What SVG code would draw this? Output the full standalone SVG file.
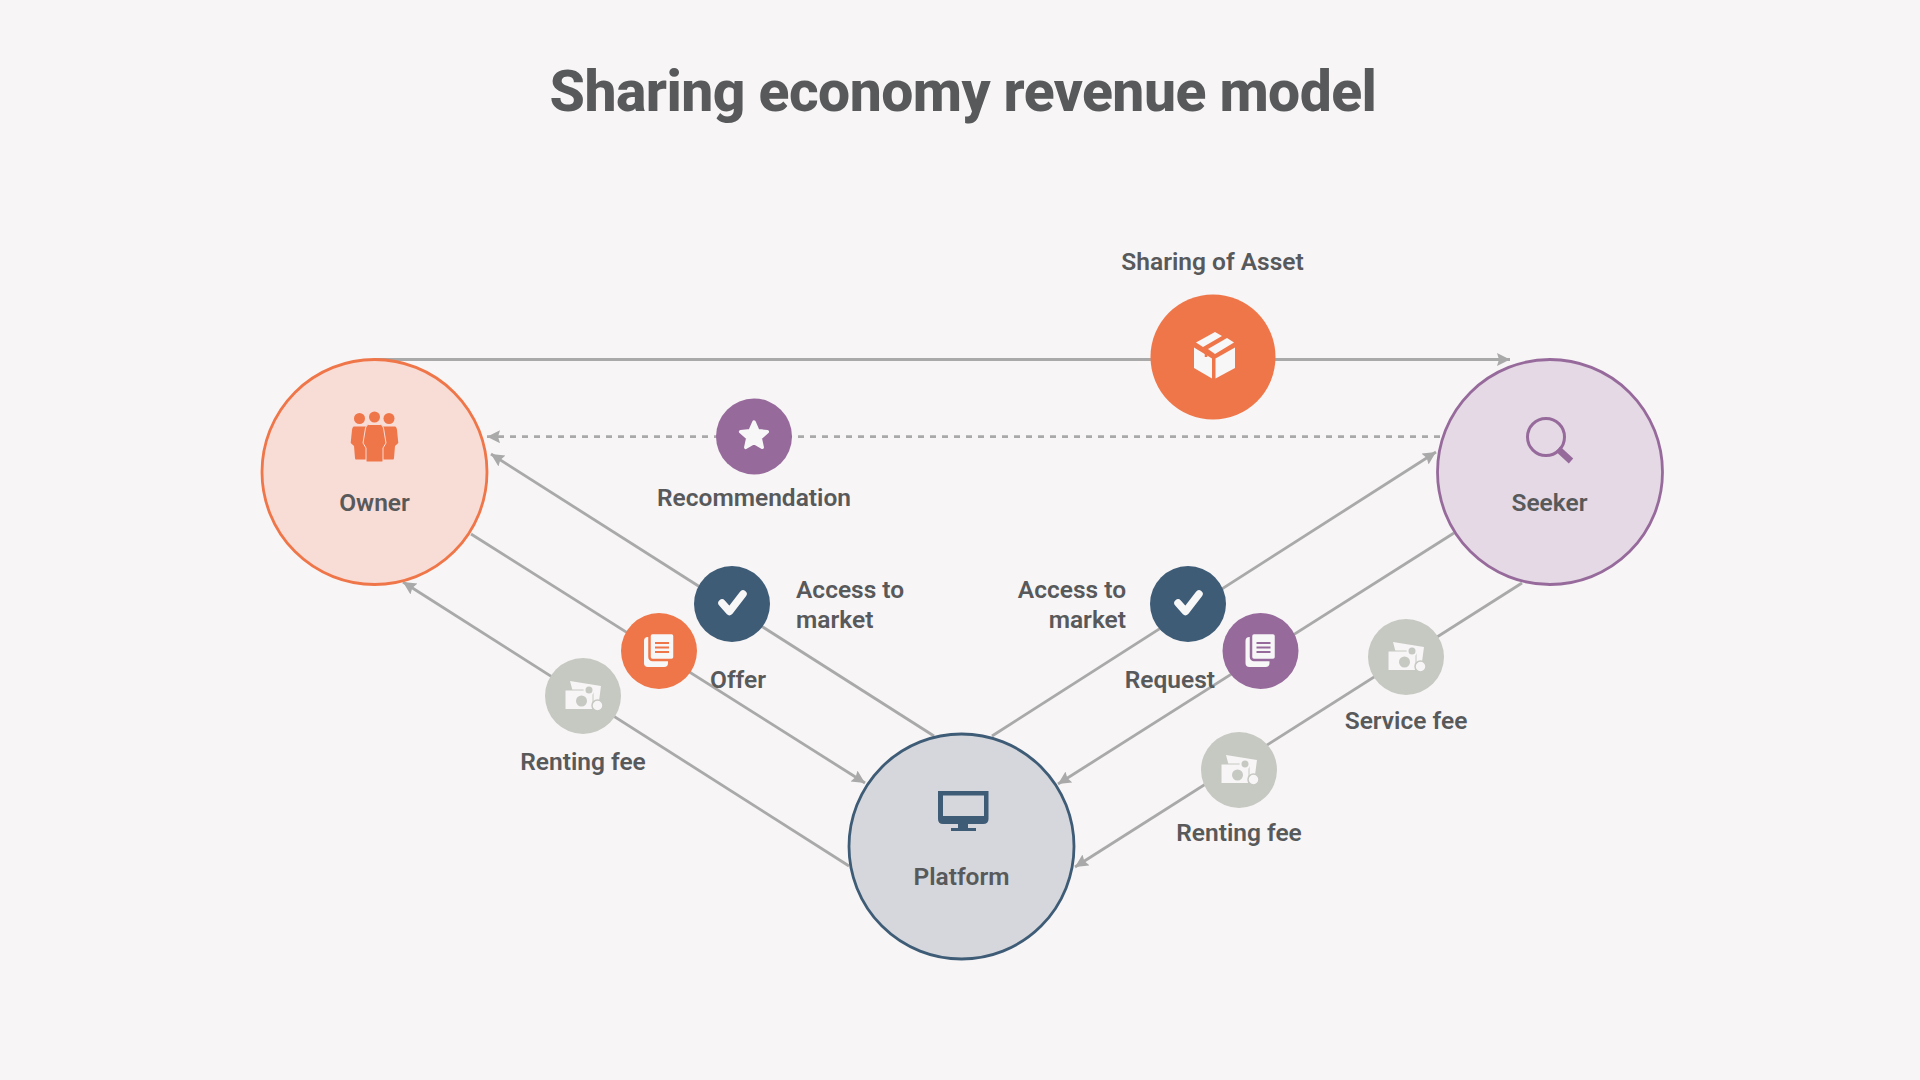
<svg xmlns="http://www.w3.org/2000/svg" width="1920" height="1080" viewBox="0 0 1920 1080">
<style>
text{font-family:"Roboto","Liberation Sans",sans-serif;font-weight:600;font-size:24.5px;fill:#58595b}
.m{text-anchor:middle}.e{text-anchor:end}
.title{font-size:57px;font-weight:800;letter-spacing:-.55px}
.c{fill:none;stroke:#a9a9a9;stroke-width:2.800}
.a{marker-end:url(#arrow)}
.d{stroke-dasharray:6 6}
.big{stroke-width:2.800}
.w{fill:#f8f7f8}
</style>
<defs>
<marker id="arrow" markerUnits="userSpaceOnUse" markerWidth="14" markerHeight="14" refX="13" refY="6.500" orient="auto"><path d="M0 0L13 6.500L0 13L2 6.500Z" fill="#a9a9a9"/></marker>
<symbol id="money" viewBox="-20 -20 40 40" width="40" height="40" overflow="visible">
<path d="M-13-15L18-10L16 5H10V-5.500H-10.500Z" fill="#f7f5f6"/>
<path d="M-18-6H10V13.500H-18Z" fill="#f7f5f6" stroke="#c6c8c2" stroke-width="1"/>
<circle cx="-1.500" cy="5" r="5.500" fill="#c6c8c2"/>
<circle cx="6" cy="-6" r="4.500" fill="#c6c8c2" stroke="#f7f5f6" stroke-width="2"/>
<circle cx="14.500" cy="9.500" r="5.500" fill="#f7f5f6" stroke="#c6c8c2" stroke-width="1.500"/>
</symbol>
<symbol id="docs" viewBox="-20 -20 40 40" width="40" height="40" overflow="visible">
<rect x="-15" y="-14" width="24" height="30" rx="4" class="w"/>
<rect x="-9.500" y="-18" width="25" height="27" rx="3" class="w" stroke="currentColor" stroke-width="2.500"/>
<path d="M-4-8H10M-4-3.500H10M-4 1H10" stroke="currentColor" stroke-width="2" fill="none"/>
</symbol>
<symbol id="check" viewBox="-20 -20 40 40" width="40" height="40" overflow="visible">
<path d="M-10-1L-2.500 7.500L11-10" fill="none" stroke="#f8f7f8" stroke-width="7.500" stroke-linecap="round" stroke-linejoin="round"/>
</symbol>
</defs>
<rect width="1920" height="1080" fill="#f7f5f6"/>
<text id="title" class="title m" x="963" y="111">Sharing economy revenue model</text>
<g id="connectors">
<path class="c a" d="M374 359.500H1510"/>
<path class="c a d" d="M1440 436.700H487"/>
<path class="c a" d="M934 736L491 454"/>
<path class="c a" d="M471 534L865 783"/>
<path class="c a" d="M849 866L403 582"/>
<path class="c a" d="M992 736L1436 452"/>
<path class="c a" d="M1454 533L1058 784"/>
<path class="c a" d="M1522 583L1075 867"/>
</g>
<g id="owner">
<circle class="big" cx="374.500" cy="472" r="112.500" fill="#f8dcd6" stroke="#ef7649"/>
<g fill="#ef7649">
<circle cx="374.500" cy="417" r="5.500"/><circle cx="359.500" cy="418.500" r="5.500"/><circle cx="389" cy="418.500" r="5.500"/>
<path d="M354 426.500H366V459.500H356Q355 459.500 355 458L354 446L350.700 443L352 430Q352.500 426.500 354 426.500Z"/>
<path d="M383 426.500H395Q396.500 426.500 397 430L398.300 443L395 446L394 458Q394 459.500 393 459.500H383Z"/>
<path d="M368.500 424.500H380.500Q382.500 424.500 383.500 428L386 443L383 448V461Q383 462 382 462H367Q366 462 366 461V448L363 443L365.500 428Q366.500 424.500 368.500 424.500Z" stroke="#f8dcd6" stroke-width="1"/>
</g>
<text class="m" x="374.500" y="511">Owner</text>
</g>
<g id="seeker">
<circle class="big" cx="1550" cy="472" r="112.500" fill="#e4d9e4" stroke="#976a9c"/>
<circle cx="1546" cy="437" r="18.500" fill="none" stroke="#976a9c" stroke-width="3"/>
<path d="M1558 449L1571 461" stroke="#976a9c" stroke-width="6.500"/>
<text class="m" x="1549.500" y="511">Seeker</text>
</g>
<g id="platform">
<circle class="big" cx="961.500" cy="846.500" r="112.500" fill="#d5d7dc" stroke="#3f5c77"/>
<path fill-rule="evenodd" fill="#3f5c77" d="M938 791H988.500V819Q988.500 824 983 824H968V828H976V831H951V828H958V824H943Q938 824 938 819ZM943 795.500V816H984V795.500Z"/>
<text class="m" x="961.500" y="885">Platform</text>
</g>
<g id="sharing-of-asset">
<circle cx="1213" cy="357" r="62.500" fill="#ef7649"/>
<g class="w">
<path d="M1194 347.500L1212 358.500V378.500L1194 368Z"/>
<path d="M1215.500 358.500L1235 347.500V368L1215.500 378.500Z"/>
<path d="M1196 342.500L1215 332L1222 336L1203 347Z"/>
<path d="M1208 349L1227 338L1234 342.500L1215 354Z"/>
</g>
<path d="M1203 349L1206 351V357" fill="none" stroke="#ef7649" stroke-width="2.500"/>
<text class="m" x="1212.500" y="270">Sharing of Asset</text>
</g>
<g id="recommendation">
<circle cx="754" cy="436.500" r="38" fill="#976a9c"/>
<path d="M754 422L757.800 430.700L767.300 431.700L760.200 438L762.200 447.300L754 442.500L745.800 447.300L747.800 438L740.700 431.700L750.200 430.700Z" class="w" stroke="#f8f7f8" stroke-width="3.500" stroke-linejoin="round"/>
<text class="m" x="754" y="506">Recommendation</text>
</g>
<g id="access-owner">
<circle cx="732" cy="604" r="38" fill="#3f5c77"/>
<use href="#check" x="712" y="584"/>
<text x="796" y="598">Access to</text>
<text x="796" y="628">market</text>
</g>
<g id="offer">
<circle cx="659" cy="651" r="38" fill="#ef7649"/>
<use href="#docs" x="639" y="631" color="#ef7649"/>
<text x="710" y="688">Offer</text>
</g>
<g id="renting-fee-owner">
<circle cx="583" cy="696" r="38" fill="#c6c8c2"/>
<use href="#money" x="563" y="676"/>
<text class="m" x="583" y="770">Renting fee</text>
</g>
<g id="access-seeker">
<circle cx="1188" cy="604" r="38" fill="#3f5c77"/>
<use href="#check" x="1168" y="584"/>
<text class="e" x="1126" y="598">Access to</text>
<text class="e" x="1126" y="628">market</text>
</g>
<g id="request">
<circle cx="1260.500" cy="651" r="38" fill="#976a9c"/>
<use href="#docs" x="1240.500" y="631" color="#976a9c"/>
<text class="e" x="1215" y="688">Request</text>
</g>
<g id="service-fee">
<circle cx="1406" cy="657" r="38" fill="#c6c8c2"/>
<use href="#money" x="1386" y="637"/>
<text class="m" x="1406" y="729">Service fee</text>
</g>
<g id="renting-fee-seeker">
<circle cx="1239" cy="770" r="38" fill="#c6c8c2"/>
<use href="#money" x="1219" y="750"/>
<text class="m" x="1239" y="841">Renting fee</text>
</g>
</svg>
